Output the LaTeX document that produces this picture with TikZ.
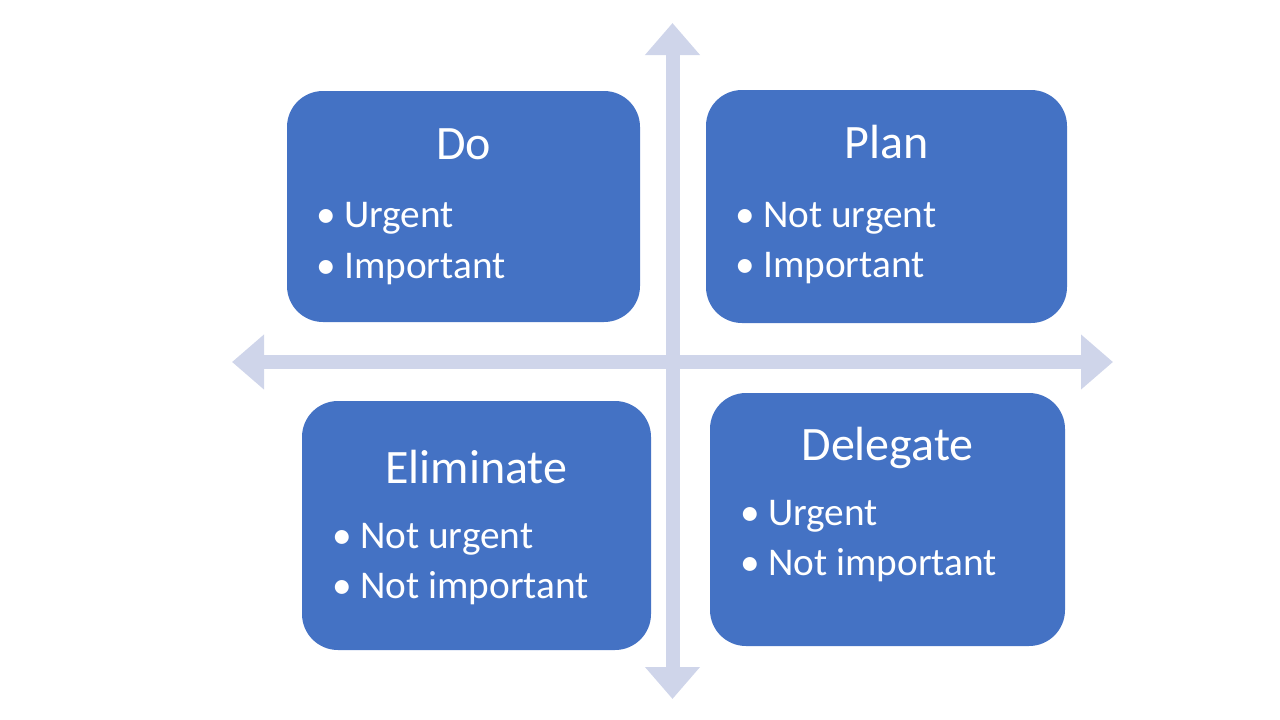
\documentclass[tikz,border=0pt]{standalone}
\usepackage{fontspec}
\setmainfont{Carlito}
\usetikzlibrary{arrows.meta}
\definecolor{quadblue}{HTML}{4472C4}
\definecolor{axisgray}{HTML}{CFD5EA}
\tikzstyle{quad} = [
    rectangle,
    rounded corners=36pt,
    inner sep=0pt,
    fill=quadblue
]
\tikzstyle{title} = [
    anchor=base,
    inner sep=0pt,
    text=white,
    font=\fontsize{48}{58}\selectfont
]
\tikzstyle{item} = [
    anchor=base west,
    inner sep=0pt,
    text=white,
    font=\fontsize{39.3}{51}\selectfont
]
\tikzstyle{axis} = [
    line width=14pt,
    draw=axisgray,
    {Triangle[width=53pt, length=32pt]}-{Triangle[width=53pt, length=32pt]}
]
\newcommand{\bul}{\makebox[28pt][l]{•}}

\begin{document}
\begin{tikzpicture}[x=1pt, y=-1pt]
        \useasboundingbox (0,0) rectangle (1280,720);
        \coordinate (west) at (232,362);
        \coordinate (east) at (1113,362);
        \coordinate (north) at (672.5,23);
        \coordinate (south) at (672.5,699);
        \draw[axis] (west) -- (east);
        \draw[axis] (north) -- (south);

        \node (do) [quad, minimum width=353pt, minimum height=231pt] at (463.5,206.5) {};
        \node (plan) [quad, minimum width=361pt, minimum height=233pt] at (886.5,206.5) {};
        \node (elim) [quad, minimum width=349pt, minimum height=249pt] at (476.5,525.5) {};
        \node (dele) [quad, minimum width=355pt, minimum height=253pt] at (887.5,519.5) {};

        \node (do title) [title] at (463.5,159) {Do};
        \node (do a) [item] at (316,227) {\bul Urgent};
        \node (do b) [item] at (316,278) {\bul Important};

        \node (plan title) [title] at (886.5,158) {Plan};
        \node (plan a) [item] at (735,227) {\bul Not urgent};
        \node (plan b) [item] at (735,277) {\bul Important};

        \node (elim title) [title] at (476.5,483) {Eliminate};
        \node (elim a) [item] at (332,548) {\bul Not urgent};
        \node (elim b) [item] at (332,598) {\bul Not important};

        \node (dele title) [title] at (887.5,460) {Delegate};
        \node (dele a) [item] at (740,525) {\bul Urgent};
        \node (dele b) [item] at (740,575) {\bul Not important};
    \end{tikzpicture}
\end{document}
